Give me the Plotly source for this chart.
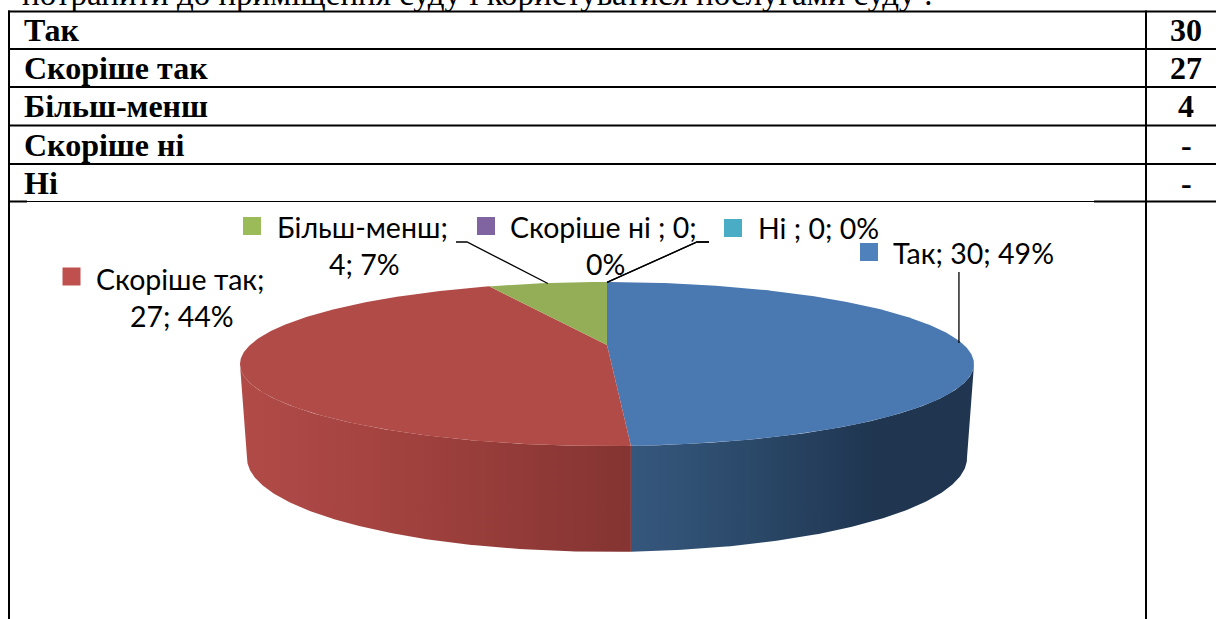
import math
import plotly.graph_objects as go

# ---- data ----
categories = ["Так", "Скоріше так", "Більш-менш", "Скоріше ні", "Ні"]
values = [30, 27, 4, 0, 0]
table_values = ["30", "27", "4", "-", "-"]
heading = "потрапити до приміщення суду і користуватися послугами суду :"

# ---- styles ----
top_colors = ["#4a78b0", "#b14b48", "#93ae56", "#7d609e", "#48a7c0"]
key_colors = ["#4f81bd", "#c0504d", "#9bbb59", "#8064a2", "#4bacc6"]
side_stops = [
    [[0, "#36577d"], [0.3, "#2c4b6c"], [0.72, "#1f3550"], [1, "#1f3550"]],
    [[0, "#b14b48"], [0.4, "#a2423f"], [1, "#843432"]],
    [[0, "#70853f"], [1, "#70853f"]],
    [[0, "#5f4778"], [1, "#5f4778"]],
    [[0, "#35808f"], [1, "#35808f"]],
]
SERIF = "Liberation Serif"
SANS = "Lato"
LBL = 28.5
TBL = 32

# perspective models of the pie's top and bottom circles (pixel-scaled axes)
TOP = dict(cx=607, cy=345, A=357, B=77.6, k=0.2317)
BOT = dict(cx=607, cy=434.5, A=348.6, B=88, k=0.25)
# the part of the rim that faces the viewer
FRONT0, FRONT1 = math.radians(104), math.radians(256)


def project(m, theta, r=1.0):
    u, v = r * math.sin(theta), r * math.cos(theta)
    w = 1 + m["k"] * v
    return m["cx"] + m["A"] * u / w, m["cy"] - m["B"] * v / w


def rim(m, a0, a1):
    n = max(2, int(abs(a1 - a0) / 0.01))
    return [project(m, a0 + (a1 - a0) * i / n) for i in range(n + 1)]


total = sum(values)
spans = []
c = 0
for v in values:
    spans.append((2 * math.pi * c / total, 2 * math.pi * (c + v) / total))
    c += v

fig = go.Figure()

# sides: only the arc that faces the viewer
for (a0, a1), stops in zip(spans, side_stops):
    b0, b1 = max(a0, FRONT0), min(a1, FRONT1)
    if b1 <= b0:
        continue
    pts = rim(TOP, b0, b1) + rim(BOT, b1, b0)
    xs = [p[0] for p in pts]
    ys = [p[1] for p in pts]
    fig.add_trace(go.Scatter(
        x=xs + xs[:1], y=ys + ys[:1], mode="lines", line=dict(width=0),
        fill="toself",
        fillgradient=dict(type="horizontal", colorscale=stops,
                          start=min(xs), stop=max(xs)),
        hoverinfo="skip", showlegend=False))

# top faces
for (a0, a1), col in zip(spans, top_colors):
    pts = [(TOP["cx"], TOP["cy"])] + rim(TOP, a0, a1)
    fig.add_trace(go.Scatter(
        x=[p[0] for p in pts] + [TOP["cx"]], y=[p[1] for p in pts] + [TOP["cy"]],
        mode="lines", line=dict(width=0), fill="toself", fillcolor=col,
        hoverinfo="skip", showlegend=False))


def mid(i):
    return project(TOP, (spans[i][0] + spans[i][1]) / 2, 0.992)


# leader lines: elbow positions, then the slice anchor computed from the value
leaders = [
    (0, [(959, 272)]),
    (2, [(456, 242), (467, 242)]),
    (3, [(709, 242), (697, 242)]),
    (4, [(709, 242), (697, 242)]),
]
for i, elbow in leaders:
    end = mid(i)
    pts = elbow + [end]
    if i == 0:
        pts = [(end[0], 272), end]
    fig.add_trace(go.Scatter(x=[p[0] for p in pts], y=[p[1] for p in pts], mode="lines",
                             line=dict(color="#000000", width=1.3),
                             hoverinfo="skip", showlegend=False))

# legend keys beside the data labels
key_pos = [(869, 252), (71.5, 276.5), (252, 226), (486, 226), (733, 228)]
fig.add_trace(go.Scatter(
    x=[p[0] for p in key_pos], y=[p[1] for p in key_pos], mode="markers",
    marker=dict(symbol="square", size=18, color=key_colors, line=dict(width=0)),
    hoverinfo="skip", showlegend=False))

pct = [round(100 * v / total) for v in values]
annots = []


def text(x, y, s, font, size, bold=False, anchor="left", vanchor="middle"):
    annots.append(dict(x=x, y=y, xref="x", yref="y", text=f"<b>{s}</b>" if bold else s,
                       showarrow=False, xanchor=anchor, yanchor=vanchor,
                       font=dict(family=font, size=size, color="#000000"),
                       borderpad=0, borderwidth=0))


# data labels
text(893, 253, f"{categories[0]}; {values[0]}; {pct[0]}%", SANS, LBL)
text(96, 279, f"{categories[1]};", SANS, LBL)
text(181.5, 316, f"{values[1]}; {pct[1]}%", SANS, LBL, anchor="center")
text(277, 227, f"{categories[2]};", SANS, LBL)
text(364.5, 264, f"{values[2]}; {pct[2]}%", SANS, LBL, anchor="center")
text(510, 227, f"{categories[3]} ; {values[3]};", SANS, LBL)
text(605.5, 264, f"{pct[3]}%", SANS, LBL, anchor="center")
text(758, 228, f"{categories[4]} ; {values[4]}; {pct[4]}%", SANS, LBL)

# surrounding document table
row_y = [30, 68, 106, 145, 183]
for name, val, y in zip(categories, table_values, row_y):
    text(24, y, name, SERIF, TBL, bold=True)
    text(1186, y, val, SERIF, TBL, bold=True, anchor="center")
text(22, 12, heading, SERIF, 33, vanchor="bottom")

shapes = []


def seg(x0, y0, x1, y1, w):
    shapes.append(dict(type="line", x0=x0, y0=y0, x1=x1, y1=y1, xref="x", yref="y",
                       line=dict(color="#000000", width=w), layer="above"))


for y in [11.5, 49, 87, 125.5, 164]:
    seg(8, y, 1216, y, 2)
seg(8, 201.5, 27, 201.5, 2)
seg(27, 201.5, 1094, 201.5, 1)
seg(1094, 201.5, 1216, 201.5, 2)
seg(9, 10.5, 9, 619, 2)
seg(1146, 10.5, 1146, 619, 2)

fig.update_layout(
    width=1216, height=619, margin=dict(l=0, r=0, t=0, b=0),
    paper_bgcolor="#ffffff", plot_bgcolor="#ffffff", showlegend=False,
    xaxis=dict(range=[0, 1216], visible=False, fixedrange=True),
    yaxis=dict(range=[619, 0], visible=False, fixedrange=True),
    annotations=annots, shapes=shapes,
)
fig.write_html("out.html", config={"displayModeBar": False},
               post_script="document.body.style.margin='0';document.body.style.overflow='hidden';")
